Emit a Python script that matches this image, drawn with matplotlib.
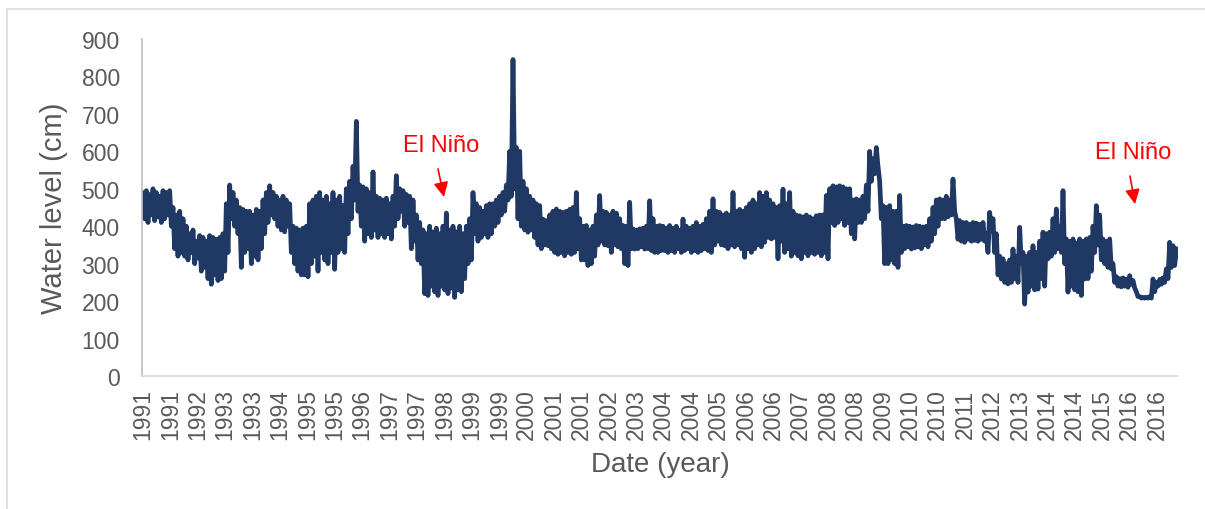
import numpy as np
import matplotlib
matplotlib.use("Agg")
import matplotlib.pyplot as plt
from matplotlib.patches import Rectangle

plt.rcParams["font.family"] = ["Liberation Sans", "DejaVu Sans"]

# water level (cm): monthly upper and lower values, Jan 1991 .. Nov 2016
HIGH = {
    1991: [490, 495, 485, 500, 490, 480, 495, 490, 495, 450, 430, 440],
    1992: [420, 400, 380, 390, 360, 375, 370, 360, 375, 370, 365, 370],
    1993: [380, 460, 510, 490, 470, 450, 445, 440, 440, 430, 445, 440],
    1994: [470, 490, 508, 490, 480, 470, 480, 470, 460, 400, 395, 390],
    1995: [395, 400, 460, 470, 480, 490, 470, 480, 460, 490, 470, 480],
    1996: [455, 500, 520, 560, 680, 510, 505, 500, 490, 545, 480, 475],
    1997: [470, 475, 460, 480, 535, 500, 495, 485, 480, 470, 430, 410],
    1998: [390, 380, 400, 385, 395, 380, 400, 435, 390, 400, 385, 400],
    1999: [380, 400, 420, 490, 460, 450, 440, 455, 460, 460, 470, 480],
    2000: [490, 510, 600, 845, 610, 600, 520, 500, 480, 470, 460, 455],
    2001: [419, 415, 430, 440, 446, 440, 437, 440, 445, 450, 490, 420],
    2002: [400, 402, 390, 400, 430, 482, 440, 437, 430, 440, 435, 420],
    2003: [402, 400, 464, 393, 390, 393, 395, 400, 468, 420, 400, 402],
    2004: [400, 395, 402, 395, 400, 390, 419, 400, 395, 400, 410, 400],
    2005: [405, 420, 440, 473, 440, 437, 430, 435, 430, 490, 440, 445],
    2006: [440, 450, 460, 470, 460, 490, 480, 490, 470, 460, 450, 455],
    2007: [499, 460, 490, 440, 430, 428, 425, 430, 425, 420, 428, 430],
    2008: [430, 482, 500, 508, 505, 508, 505, 500, 500, 470, 473, 470],
    2009: [480, 510, 600, 580, 610, 520, 455, 450, 455, 440, 440, 482],
    2010: [400, 402, 400, 398, 402, 400, 398, 400, 420, 450, 470, 473],
    2011: [470, 480, 470, 526, 419, 415, 410, 410, 405, 410, 408, 405],
    2012: [410, 380, 437, 420, 380, 320, 313, 300, 310, 339, 320, 397],
    2013: [330, 320, 330, 348, 330, 360, 384, 380, 384, 420, 446, 400],
    2014: [495, 366, 360, 366, 355, 366, 360, 366, 370, 400, 455, 430],
    2015: [366, 360, 366, 300, 265, 260, 262, 258, 268, 255, 225, 212],
    2016: [210, 210, 212, 259, 250, 258, 262, 286, 357, 348, 340],
}
LOW = {
    1991: [420, 410, 430, 415, 425, 410, 420, 430, 400, 340, 320, 330],
    1992: [320, 310, 330, 300, 315, 280, 290, 260, 245, 270, 255, 260],
    1993: [280, 330, 420, 400, 380, 290, 330, 340, 300, 320, 310, 340],
    1994: [380, 410, 430, 420, 400, 390, 385, 400, 330, 300, 280, 270],
    1995: [270, 265, 300, 320, 280, 330, 310, 300, 330, 285, 330, 340],
    1996: [330, 380, 420, 470, 440, 400, 360, 380, 370, 390, 370, 380],
    1997: [370, 380, 366, 400, 420, 440, 400, 410, 340, 360, 310, 300],
    1998: [220, 215, 240, 225, 215, 240, 230, 220, 235, 210, 230, 225],
    1999: [260, 300, 310, 380, 360, 370, 380, 370, 380, 400, 410, 430],
    2000: [440, 470, 480, 500, 420, 400, 390, 384, 390, 370, 350, 340],
    2001: [350, 348, 340, 330, 325, 330, 321, 330, 325, 330, 340, 310],
    2002: [310, 295, 300, 320, 350, 360, 350, 348, 330, 350, 345, 340],
    2003: [300, 295, 340, 339, 340, 345, 339, 340, 335, 330, 330, 335],
    2004: [335, 330, 335, 330, 340, 330, 335, 340, 330, 335, 330, 335],
    2005: [340, 335, 330, 350, 360, 350, 348, 340, 350, 345, 350, 340],
    2006: [317, 340, 330, 340, 350, 345, 357, 370, 366, 370, 313, 360],
    2007: [330, 340, 320, 330, 321, 313, 330, 321, 330, 325, 330, 321],
    2008: [330, 313, 410, 402, 410, 420, 402, 410, 380, 366, 410, 410],
    2009: [420, 440, 520, 540, 560, 420, 300, 300, 310, 300, 290, 330],
    2010: [340, 345, 339, 342, 345, 340, 350, 345, 360, 380, 400, 420],
    2011: [420, 425, 430, 440, 365, 360, 357, 365, 360, 362, 360, 365],
    2012: [360, 330, 390, 330, 270, 259, 250, 246, 250, 260, 250, 300],
    2013: [192, 224, 240, 230, 232, 260, 240, 313, 320, 330, 340, 330],
    2014: [300, 224, 240, 230, 225, 215, 259, 260, 280, 330, 350, 310],
    2015: [300, 290, 286, 250, 240, 238, 240, 237, 245, 235, 212, 208],
    2016: [208, 208, 208, 225, 240, 245, 250, 260, 290, 295, 320],
}

TICK_LABELS = ["1991", "1991", "1992", "1993", "1993", "1994", "1995", "1995",
               "1996", "1997", "1997", "1998", "1999", "1999", "2000", "2001",
               "2001", "2002", "2003", "2004", "2004", "2005", "2006", "2006",
               "2007", "2008", "2008", "2009", "2010", "2010", "2011", "2012",
               "2013", "2014", "2014", "2015", "2016", "2016"]

# El Nino markers: (text x, text y, arrow tail, arrow tip)
NINO = [
    (1998.45, 617, (1998.375, 553), (1998.525, 478)),
    (2015.75, 598, (2015.675, 534), (2015.80, 459)),
]

# interleave upper/lower readings at half-month steps
t, y = [], []
for yr in HIGH:
    for m, (hi, lo) in enumerate(zip(HIGH[yr], LOW[yr])):
        t += [yr + m / 12, yr + (m + 0.5) / 12]
        y += [hi, lo]

NAVY = "#1F3864"
GREY = "#595959"

fig = plt.figure(figsize=(12.05, 5.10), dpi=100)
ax = fig.add_axes([142 / 1205, 1 - 377 / 510, (1178 - 142) / 1205, (377 - 40) / 510])

ax.plot(t, y, color=NAVY, lw=3.4, solid_joinstyle="round", solid_capstyle="round")

ax.set_xlim(1990.975, 2016.875)
ax.set_ylim(0, 900)
ax.set_yticks(np.arange(0, 901, 100))
ax.tick_params(axis="y", length=0, pad=16, labelsize=16.5, labelcolor=GREY)
ax.set_xticks(np.linspace(1991.0, 2016.35, len(TICK_LABELS)))
ax.set_xticklabels(TICK_LABELS, rotation=90)
ax.tick_params(axis="x", length=0, pad=9, labelsize=16.5, labelcolor=GREY)

for side in ("top", "right"):
    ax.spines[side].set_visible(False)
ax.spines["left"].set_color("#BFBFBF")
ax.spines["bottom"].set_color("#D9D9D9")
ax.spines["left"].set_linewidth(1.2)
ax.spines["bottom"].set_linewidth(1.2)

ax.set_ylabel("Water level (cm)", fontsize=21, color=GREY, labelpad=10)
ax.set_xlabel("Date (year)", fontsize=20, color=GREY, labelpad=8)

for tx, ty, tail, tip in NINO:
    ax.text(tx, ty, "El Niño", color="#FF0000", fontsize=17, ha="center", va="center")
    ax.annotate("", xy=tip, xytext=tail,
                arrowprops=dict(arrowstyle="-|>", color="#FF0000", lw=1.2,
                                mutation_scale=22, shrinkA=0, shrinkB=0))

# chart-area border
fig.add_artist(Rectangle((7 / 1205, -0.05), 1.2, 1.05 - 10 / 510,
                         transform=fig.transFigure, fill=False,
                         edgecolor="#D9D9D9", lw=1.2))

fig.savefig("out.png", dpi=100)
